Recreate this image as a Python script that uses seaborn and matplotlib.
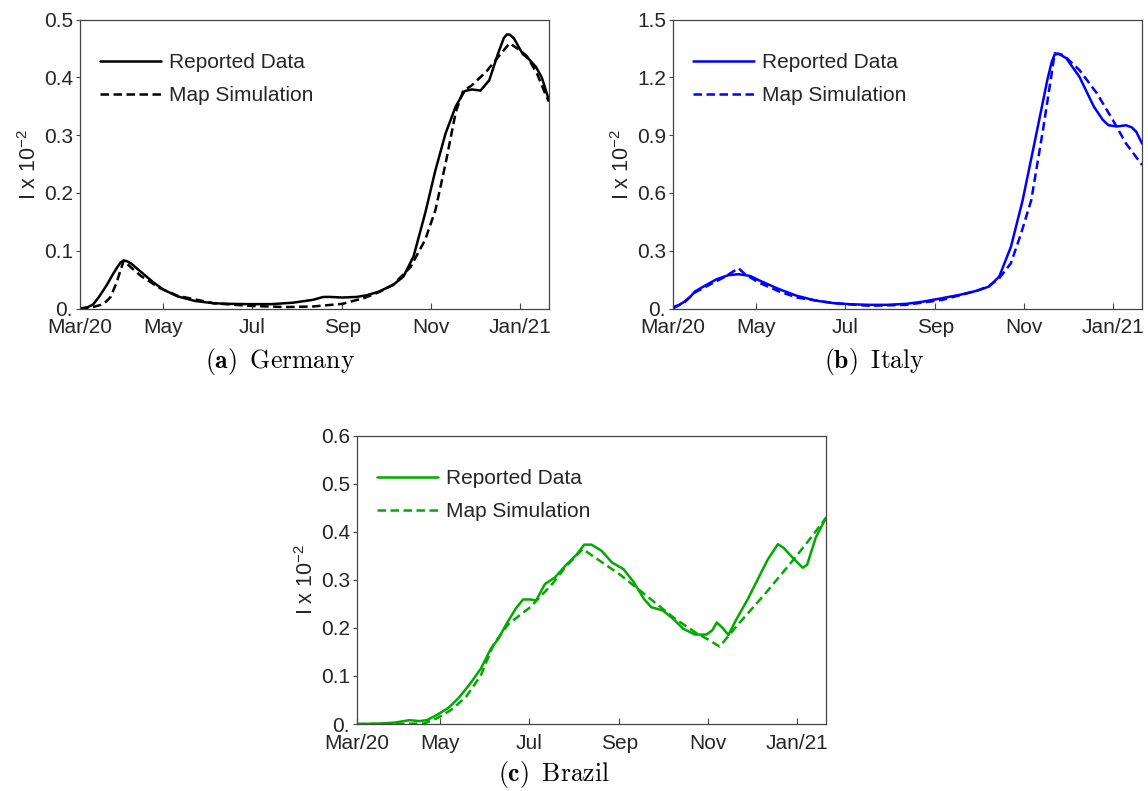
import pandas as pd
import matplotlib
matplotlib.use("Agg")
import matplotlib.pyplot as plt
import seaborn as sns

sns.set_theme(style="white")
plt.rcParams["font.family"] = ["Liberation Sans", "DejaVu Sans"]
plt.rcParams["mathtext.fontset"] = "custom"
plt.rcParams["mathtext.rm"] = "Liberation Sans"
plt.rcParams["mathtext.it"] = "Liberation Sans:italic"
plt.rcParams["mathtext.bf"] = "Liberation Sans:bold"

# Time axis: days counted from 5 March 2020
START = pd.Timestamp("2020-03-05")
N_DAYS = 322
tick_dates = ["2020-03-05", "2020-05-01", "2020-07-01", "2020-09-01", "2020-11-01", "2021-01-01"]
tick_labels = ["Mar/20", "May", "Jul", "Sep", "Nov", "Jan/21"]

# Germany (I x 10^-2)
germany_rep_day = [0, 5, 9, 13, 18, 23, 26, 28, 30, 32, 35, 42, 50, 57, 67, 79, 92, 104, 116,
                   131, 146, 160, 167, 172, 180, 190, 197, 205, 215, 222, 229, 237, 244, 251,
                   258, 264, 269, 275, 281, 287, 291, 293, 295, 298, 304, 308, 313, 317, 322]
germany_rep_val = [0.000, 0.002, 0.007, 0.020, 0.039, 0.061, 0.073, 0.080, 0.083, 0.082, 0.078,
                   0.063, 0.046, 0.033, 0.021, 0.013, 0.009, 0.008, 0.0075, 0.0075, 0.010,
                   0.015, 0.020, 0.020, 0.019, 0.020, 0.023, 0.029, 0.041, 0.055, 0.090, 0.165,
                   0.239, 0.303, 0.350, 0.376, 0.379, 0.377, 0.395, 0.441, 0.468, 0.474, 0.474,
                   0.467, 0.440, 0.432, 0.418, 0.400, 0.360]
germany_sim_day = [0, 8, 14, 18, 21, 25, 30, 35, 42, 55, 67, 92, 116, 141, 160, 180, 195, 205,
                   215, 227, 237, 244, 251, 258, 263, 269, 279, 288, 295, 303, 307, 314, 320, 322]
germany_sim_val = [0.000, 0.002, 0.006, 0.012, 0.020, 0.044, 0.083, 0.071, 0.056, 0.035, 0.022,
                   0.009, 0.0046, 0.0025, 0.0035, 0.008, 0.018, 0.028, 0.041, 0.072, 0.119, 0.170,
                   0.251, 0.340, 0.376, 0.386, 0.410, 0.438, 0.459, 0.445, 0.436, 0.405, 0.368,
                   0.358]

# Italy (I x 10^-2)
italy_rep_day = [0, 4, 8, 12, 15, 23, 30, 38, 45, 53, 60, 73, 85, 98, 110, 122, 135, 147, 160,
                 172, 185, 197, 209, 217, 224, 232, 240, 250, 257, 260, 262, 265, 270, 279, 289,
                 295, 299, 305, 311, 315, 318, 322]
italy_rep_val = [0.007, 0.018, 0.036, 0.062, 0.088, 0.123, 0.152, 0.173, 0.178, 0.169, 0.143,
                 0.100, 0.066, 0.041, 0.028, 0.022, 0.019, 0.019, 0.024, 0.036, 0.054, 0.071,
                 0.093, 0.114, 0.166, 0.320, 0.560, 0.926, 1.186, 1.280, 1.318, 1.322, 1.299,
                 1.203, 1.047, 0.980, 0.951, 0.945, 0.951, 0.940, 0.918, 0.857]
italy_sim_day = [0, 8, 15, 25, 35, 45, 50, 60, 73, 85, 110, 135, 160, 185, 209, 217, 224, 232,
                 239, 246, 254, 260, 262, 268, 279, 291, 302, 311, 322]
italy_sim_val = [0.000, 0.033, 0.083, 0.123, 0.162, 0.209, 0.174, 0.131, 0.088, 0.057, 0.028,
                 0.014, 0.019, 0.045, 0.093, 0.117, 0.157, 0.235, 0.390, 0.563, 0.926, 1.220,
                 1.325, 1.316, 1.238, 1.117, 0.978, 0.857, 0.745]

# Brazil (I x 10^-2)
brazil_rep_day = [0, 16, 26, 36, 43, 48, 55, 63, 70, 77, 85, 92, 97, 102, 109, 114, 119, 123,
                  129, 136, 143, 151, 156, 161, 168, 175, 183, 190, 197, 202, 210, 217, 224,
                  232, 240, 244, 247, 251, 255, 260, 268, 282, 289, 293, 300, 306, 309, 315, 322]
brazil_rep_val = [0.000, 0.001, 0.003, 0.008, 0.006, 0.008, 0.019, 0.034, 0.055, 0.081, 0.115,
                  0.157, 0.177, 0.205, 0.240, 0.259, 0.259, 0.257, 0.291, 0.305, 0.329, 0.353,
                  0.373, 0.373, 0.360, 0.336, 0.322, 0.295, 0.260, 0.243, 0.236, 0.219, 0.198,
                  0.186, 0.186, 0.195, 0.211, 0.200, 0.185, 0.215, 0.258, 0.342, 0.374, 0.366,
                  0.343, 0.325, 0.331, 0.388, 0.429]
brazil_sim_day = [0, 21, 46, 55, 65, 75, 85, 94, 104, 119, 134, 143, 155, 163, 180, 197, 217,
                  232, 242, 249, 261, 280, 300, 311, 322]
brazil_sim_val = [0.000, 0.000, 0.001, 0.012, 0.030, 0.057, 0.101, 0.167, 0.208, 0.243, 0.291,
                  0.326, 0.364, 0.347, 0.312, 0.271, 0.222, 0.191, 0.174, 0.161, 0.205, 0.270,
                  0.343, 0.385, 0.429]

germany_yticks = [0.0, 0.1, 0.2, 0.3, 0.4, 0.5]
germany_ylabels = ["0.", "0.1", "0.2", "0.3", "0.4", "0.5"]
italy_yticks = [0.0, 0.3, 0.6, 0.9, 1.2, 1.5]
italy_ylabels = ["0.", "0.3", "0.6", "0.9", "1.2", "1.5"]
brazil_yticks = [0.0, 0.1, 0.2, 0.3, 0.4, 0.5, 0.6]
brazil_ylabels = ["0.", "0.1", "0.2", "0.3", "0.4", "0.5", "0.6"]


def to_dates(days):
    return START + pd.to_timedelta(days, unit="D")


W, H = 1148, 791
fig = plt.figure(figsize=(W / 100, H / 100), dpi=100)

panels = [
    dict(rect=(80, 19.5, 469, 289), color="black",
         rep=(germany_rep_day, germany_rep_val), sim=(germany_sim_day, germany_sim_val),
         yticks=germany_yticks, ylabels=germany_ylabels,
         caption=r"$\mathbf{(a)}\;\;\mathrm{Germany}$", cap_xy=(280, 362)),
    dict(rect=(673, 19.5, 469, 289), color="#0000ff",
         rep=(italy_rep_day, italy_rep_val), sim=(italy_sim_day, italy_sim_val),
         yticks=italy_yticks, ylabels=italy_ylabels,
         caption=r"$\mathbf{(b)}\;\;\mathrm{Italy}$", cap_xy=(875, 362)),
    dict(rect=(357, 435.5, 469, 288.5), color="#00aa00",
         rep=(brazil_rep_day, brazil_rep_val), sim=(brazil_sim_day, brazil_sim_val),
         yticks=brazil_yticks, ylabels=brazil_ylabels,
         caption=r"$\mathbf{(c)}\;\;\mathrm{Brazil}$", cap_xy=(554, 775)),
]

for p in panels:
    x0, y0, w, h = p["rect"]
    ax = fig.add_axes([x0 / W, 1 - (y0 + h) / H, w / W, h / H])

    rep = pd.DataFrame({"date": to_dates(p["rep"][0]), "I": p["rep"][1]})
    sim = pd.DataFrame({"date": to_dates(p["sim"][0]), "I": p["sim"][1]})
    sns.lineplot(data=rep, x="date", y="I", ax=ax, color=p["color"], lw=1.8,
                 label="Reported Data")
    sns.lineplot(data=sim, x="date", y="I", ax=ax, color=p["color"], lw=1.8,
                 linestyle=(0, (3.4, 1.8)), label="Map Simulation")

    ax.set_xlim(START, START + pd.Timedelta(days=N_DAYS))
    ax.set_ylim(p["yticks"][0], p["yticks"][-1])
    ax.set_xticks(pd.to_datetime(tick_dates))
    ax.set_xticklabels(tick_labels)
    ax.set_yticks(p["yticks"])
    ax.set_yticklabels(p["ylabels"])
    ax.set_xlabel("")
    ax.set_ylabel(r"I x 10$^{-2}$", fontsize=15.5, labelpad=2)

    ax.tick_params(axis="x", direction="in", length=4, width=0.8, color="#444444",
                   labelsize=15, pad=7, bottom=True, top=False)
    ax.tick_params(axis="y", direction="out", length=3, width=0.8, color="#444444",
                   labelsize=15, pad=2, left=True, right=False)
    for s in ax.spines.values():
        s.set_visible(True)
        s.set_color("#444444")
        s.set_linewidth(0.9)

    ax.legend(loc="upper left", bbox_to_anchor=(0.043, 0.883), frameon=False,
              borderpad=0, borderaxespad=0, handlelength=2.9, handletextpad=0.42,
              labelspacing=0.65, fontsize=15)

    cx, cy = p["cap_xy"]
    fig.text(cx / W, 1 - cy / H, p["caption"], math_fontfamily="cm", fontsize=18.5,
             ha="center", va="center", color="black")

fig.savefig("out.png", dpi=100)
